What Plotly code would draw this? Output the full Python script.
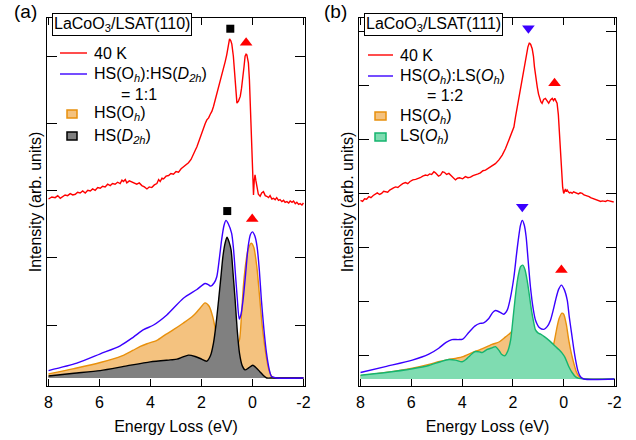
import plotly.graph_objects as go

# ---------------- Panel (a): LaCoO3/LSAT(110) ----------------
a_exp_E = [8.00, 7.87, 7.74, 7.64, 7.54, 7.45, 7.35, 7.25, 7.15, 7.05, 6.95, 6.86, 6.76, 6.66, 6.56, 6.46,
           6.36, 6.27, 6.17, 6.07, 5.97, 5.88, 5.78, 5.68, 5.58, 5.49, 5.39, 5.29, 5.19, 5.12, 5.06, 4.99,
           4.93, 4.83, 4.73, 4.64, 4.54, 4.44, 4.34, 4.24, 4.14, 4.05, 3.95, 3.85, 3.75, 3.68, 3.62, 3.55,
           3.49, 3.39, 3.29, 3.20, 3.10, 3.00, 2.90, 2.80, 2.71, 2.61, 2.51, 2.41, 2.31, 2.24, 2.18, 2.11,
           2.05, 1.98, 1.92, 1.85, 1.79, 1.72, 1.66, 1.59, 1.53, 1.46, 1.40, 1.33, 1.27, 1.20, 1.14, 1.07,
           1.01, 0.95, 0.90, 0.85, 0.81, 0.75, 0.68, 0.61, 0.55, 0.48, 0.43, 0.38, 0.33, 0.29, 0.25, 0.22,
           0.16, 0.12, 0.09, 0.06, 0.03, 0.00, -0.04, -0.07, -0.10, -0.13, -0.17, -0.23, -0.30, -0.36,
           -0.43, -0.50, -0.56, -0.63, -0.69, -0.76, -0.82, -0.89, -0.95, -1.02, -1.08, -1.15, -1.22,
           -1.28, -1.35, -1.42, -1.48, -1.55, -1.61, -1.68, -1.74, -1.81, -1.87, -1.94, -2.00]
a_exp_I = [2.67, 2.70, 2.69, 2.72, 2.68, 2.71, 2.73, 2.72, 2.75, 2.73, 2.74, 2.77, 2.76, 2.79, 2.76, 2.80,
           2.79, 2.82, 2.80, 2.84, 2.83, 2.86, 2.85, 2.89, 2.87, 2.90, 2.89, 2.92, 2.90, 2.95, 2.93, 2.96,
           2.91, 2.94, 2.92, 2.90, 2.89, 2.91, 2.87, 2.85, 2.82, 2.85, 2.84, 2.88, 2.90, 2.96, 2.93, 2.98,
           2.97, 3.01, 3.02, 3.05, 3.04, 3.08, 3.07, 3.12, 3.15, 3.17, 3.21, 3.26, 3.33, 3.40, 3.45, 3.53,
           3.60, 3.68, 3.72, 3.80, 3.85, 3.88, 3.93, 3.98, 4.05, 4.15, 4.25, 4.33, 4.40, 4.50, 4.60, 4.72,
           4.82, 4.96, 5.06, 5.03, 4.98, 4.80, 4.40, 4.10, 4.13, 4.20, 4.32, 4.45, 4.65, 4.80, 4.83, 4.82,
           4.70, 4.45, 4.15, 3.80, 3.40, 3.00, 2.73, 2.95, 3.03, 2.95, 2.86, 2.74, 2.71, 2.76,
           2.78, 2.72, 2.71, 2.69, 2.72, 2.67, 2.68, 2.66, 2.69, 2.65, 2.66, 2.63, 2.65,
           2.62, 2.63, 2.61, 2.64, 2.62, 2.64, 2.60, 2.62, 2.59, 2.60, 2.58, 2.61]

a_sum_E = [8.0, 6.89, 5.97, 5.19, 4.67, 4.27, 3.88, 3.36, 2.71, 2.18, 1.86, 1.72, 1.64, 1.50, 1.40, 1.30,
           1.21, 1.12, 1.04, 0.95, 0.82, 0.75, 0.69, 0.60, 0.52, 0.45, 0.37, 0.27, 0.17, 0.08, 0.0, -0.09,
           -0.18, -0.27, -0.35, -0.45, -0.55, -0.65, -0.75, -0.94, -2.0]
a_sum_I = [0.11, 0.22, 0.36, 0.48, 0.61, 0.72, 0.79, 0.94, 1.19, 1.32, 1.41, 1.39, 1.37, 1.42, 1.51, 1.78,
           2.06, 2.27, 2.35, 2.30, 2.16, 1.95, 1.66, 1.20, 0.88, 0.95, 1.16, 1.55, 1.96, 2.14, 2.18, 2.12,
           1.96, 1.60, 1.16, 0.72, 0.37, 0.14, 0.02, 0.0, 0.0]

a_hsoh_E = [8.0, 7.0, 5.97, 5.12, 4.70, 4.40, 4.14, 3.75, 3.40, 3.10, 2.71, 2.35, 2.10, 1.86, 1.70, 1.55,
            1.45, 1.27, 1.04, 0.80, 0.68, 0.60, 0.51, 0.43, 0.35, 0.25, 0.17, 0.05, -0.05, -0.17, -0.27,
            -0.37, -0.47, -0.56, -0.66, -0.76, -0.90, -2.0]
a_hsoh_I = [0.06, 0.14, 0.23, 0.33, 0.41, 0.47, 0.51, 0.56, 0.65, 0.72, 0.82, 0.92, 1.02, 1.12, 1.07, 0.90,
            0.72, 0.48, 0.30, 0.40, 0.48, 0.50, 0.57, 0.95, 1.40, 1.75, 1.92, 2.01, 1.95, 1.66, 1.25,
            0.82, 0.50, 0.27, 0.10, 0.02, 0.0, 0.0]

a_hsd2h_E = [8.0, 7.0, 5.97, 4.93, 4.01, 3.23, 2.96, 2.75, 2.51, 2.25, 2.05, 1.79, 1.65, 1.53, 1.43, 1.33,
             1.24, 1.16, 1.08, 1.00, 0.92, 0.84, 0.76, 0.68, 0.60, 0.51, 0.40, 0.29, 0.15, -0.01, -0.15,
             -0.30, -0.45, -0.56, -0.80, -2.0]
a_hsd2h_I = [0.03, 0.07, 0.11, 0.18, 0.24, 0.27, 0.28, 0.31, 0.34, 0.32, 0.29, 0.25, 0.33, 0.52, 0.80, 1.16,
             1.50, 1.81, 2.00, 2.10, 2.03, 1.91, 1.55, 1.16, 0.72, 0.37, 0.18, 0.12, 0.15, 0.19, 0.15,
             0.09, 0.03, 0.0, 0.0, 0.0]

a_square_E = [0.87, 0.99]
a_square_I = [5.21, 2.49]
a_tri_E = [0.25, 0.01]
a_tri_I = [5.00, 2.37]

# ---------------- Panel (b): LaCoO3/LSAT(111) ----------------
b_exp_E = [8.00, 7.92, 7.84, 7.76, 7.67, 7.59, 7.50, 7.42, 7.34, 7.25, 7.17, 7.09, 7.01, 6.93, 6.85, 6.77,
           6.70, 6.62, 6.53, 6.45, 6.34, 6.23, 6.14, 6.05, 5.94, 5.83, 5.74, 5.65, 5.55, 5.44, 5.36, 5.28,
           5.20, 5.11, 5.05, 5.00, 4.93, 4.85, 4.77, 4.70, 4.61, 4.52, 4.46, 4.40, 4.33, 4.26, 4.18, 4.10,
           3.98, 3.87, 3.77, 3.67, 3.57, 3.47, 3.37, 3.28, 3.18, 3.08, 2.99, 2.90, 2.80, 2.69,
           2.55, 2.42, 2.29, 2.16, 2.06, 1.96, 1.90, 1.83, 1.76, 1.70, 1.63, 1.57, 1.52, 1.48, 1.41, 1.35,
           1.30, 1.24, 1.19, 1.15, 1.10, 1.04, 0.99, 0.95, 0.90, 0.85, 0.79, 0.72, 0.65, 0.59, 0.52, 0.45,
           0.40, 0.35, 0.30, 0.26, 0.21, 0.17, 0.13, 0.09, 0.04, 0.00, -0.04, -0.07, -0.10, -0.14, -0.18,
           -0.23, -0.28, -0.33, -0.39, -0.45, -0.51, -0.58, -0.65, -0.73, -0.80, -0.88, -0.94, -1.00,
           -1.06, -1.12, -1.18, -1.25, -1.32, -1.40, -1.46, -1.52, -1.58, -1.65, -1.72, -1.80, -1.88, -1.97]
b_exp_I = [3.31, 3.29, 3.34, 3.33, 3.38, 3.36, 3.40, 3.43, 3.45, 3.42, 3.44, 3.48, 3.47, 3.46, 3.50, 3.53,
           3.54, 3.56, 3.55, 3.58, 3.62, 3.64, 3.62, 3.66, 3.69, 3.70, 3.71, 3.73, 3.76, 3.78, 3.77, 3.80,
           3.79, 3.84, 3.82, 3.80, 3.76, 3.78, 3.84, 3.83, 3.79, 3.81, 3.78, 3.76, 3.71, 3.69, 3.72, 3.73,
           3.71, 3.75, 3.73, 3.74, 3.77, 3.78, 3.80, 3.82, 3.86, 3.87, 3.90, 3.92, 3.95, 3.99,
           4.06, 4.15, 4.27, 4.43, 4.55, 4.67, 4.85, 5.04, 5.22, 5.41, 5.60, 5.78, 5.92, 6.03, 6.15, 6.23,
           6.20, 6.12, 5.98, 5.78, 5.58, 5.41, 5.28, 5.20, 5.14, 5.11, 5.18, 5.20, 5.14, 5.11, 5.17, 5.20,
           5.16, 5.20, 5.15, 5.11, 4.90, 4.55, 4.15, 3.81, 3.55, 3.44, 3.50, 3.52, 3.47, 3.50, 3.47,
           3.45, 3.46, 3.44, 3.47, 3.46, 3.44, 3.43, 3.45, 3.44, 3.41, 3.40, 3.39, 3.38,
           3.36, 3.35, 3.34, 3.33, 3.31, 3.31, 3.29, 3.30, 3.30, 3.29, 3.31, 3.30, 3.29, 3.28]

b_sum_E = [8.0, 7.02, 5.96, 5.31, 4.92, 4.63, 4.40, 4.15, 3.97, 3.74, 3.50, 3.30, 3.15, 2.95, 2.80, 2.69,
           2.52, 2.36, 2.22, 2.10, 1.96, 1.86, 1.79, 1.70, 1.63, 1.55, 1.48, 1.40, 1.31, 1.20, 1.11, 0.95,
           0.78, 0.65, 0.52, 0.40, 0.32, 0.20, 0.09, -0.02, -0.14, -0.22, -0.31, -0.40, -0.47, -0.56,
           -0.66, -0.80, -2.0]
b_sum_I = [0.12, 0.23, 0.35, 0.46, 0.57, 0.68, 0.73, 0.73, 0.74, 0.86, 0.98, 1.03, 1.04, 1.12, 1.23, 1.27,
           1.24, 1.20, 1.28, 1.50, 1.89, 2.30, 2.57, 2.85, 2.94, 2.85, 2.64, 2.20, 1.71, 1.30, 1.09, 0.95,
           0.92, 0.97, 1.09, 1.30, 1.46, 1.66, 1.74, 1.66, 1.46, 1.15, 0.85, 0.55, 0.35, 0.15,
           0.04, 0.0, 0.0]

b_hsoh_E = [8.0, 7.0, 5.96, 5.31, 4.85, 4.52, 4.00, 3.60, 3.31, 2.82, 2.53, 2.29, 2.10, 1.96, 1.80, 1.60,
            1.40, 1.20, 1.00, 0.80, 0.60, 0.45, 0.36, 0.28, 0.18, 0.07, 0.00, -0.10, -0.20, -0.30, -0.40,
            -0.50, -0.60, -0.72, -0.85, -2.0]
b_hsoh_I = [0.06, 0.12, 0.20, 0.27, 0.33, 0.36, 0.41, 0.49, 0.54, 0.64, 0.69, 0.78, 0.85, 0.93, 0.90, 0.80,
            0.72, 0.62, 0.52, 0.45, 0.45, 0.55, 0.72, 0.92, 1.12, 1.22, 1.20, 1.02, 0.72, 0.48, 0.29,
            0.13, 0.05, 0.01, 0.0, 0.0]

b_lsoh_E = [8.0, 7.0, 5.96, 5.31, 4.85, 4.52, 4.26, 4.00, 3.85, 3.74, 3.55, 3.47, 3.30, 3.21, 3.01, 2.80,
            2.69, 2.55, 2.45, 2.32, 2.20, 2.09, 2.00, 1.92, 1.83, 1.77, 1.70, 1.61, 1.52, 1.44, 1.35, 1.27,
            1.18, 1.11, 1.00, 0.91, 0.75, 0.59, 0.45, 0.32, 0.18, 0.06, -0.05, -0.20, -0.33, -0.47, -0.60,
            -0.80, -2.0]
b_lsoh_I = [0.07, 0.12, 0.19, 0.25, 0.32, 0.36, 0.35, 0.32, 0.36, 0.41, 0.49, 0.51, 0.50, 0.49, 0.55, 0.58,
            0.60, 0.53, 0.46, 0.43, 0.52, 0.72, 1.10, 1.46, 1.80, 1.96, 2.08, 2.11, 2.02, 1.83, 1.55, 1.28,
            1.05, 0.91, 0.85, 0.83, 0.78, 0.72, 0.66, 0.60, 0.54, 0.48, 0.40, 0.23, 0.12, 0.04, 0.01,
            0.0, 0.0]

b_down_E = [1.39, 1.63]
b_down_I = [6.50, 3.19]
b_up_E = [0.36, 0.09]
b_up_I = [5.48, 2.02]

x_tick_vals = [8, 6, 4, 2, 0, -2]
x_tick_text = ["8", "6", "4", "2", "0", "-2"]

# legend texts
a_legend = ["40 K", "HS(O<sub><i>h</i></sub>):HS(<i>D</i><sub><i>2h</i></sub>)", "= 1:1",
            "HS(O<sub><i>h</i></sub>)", "HS(<i>D</i><sub><i>2h</i></sub>)"]
b_legend = ["40 K", "HS(<i>O</i><sub><i>h</i></sub>):LS(<i>O</i><sub><i>h</i></sub>)", "= 1:2",
            "HS(<i>O</i><sub><i>h</i></sub>)", "LS(<i>O</i><sub><i>h</i></sub>)"]

# ---------------- styling ----------------
FONT = "Liberation Sans, Arial, sans-serif"
RED = "#ff0000"
BLUE = "#3a00ff"
ORANGE_LINE = "#e8900c"
ORANGE_FILL = "#f4c27f"
GRAY_FILL = "#808080"
GREEN_LINE = "#15b46e"
GREEN_FILL = "#7fdcb1"
W, H = 636, 440

fig = go.Figure()

def fill_trace(E, I, line_col, fill_col, xa, ya):
    return go.Scatter(x=E, y=I, mode="lines", line=dict(color=line_col, width=1.4, shape="spline", smoothing=0.7),
                      fill="tozeroy", fillcolor=fill_col, xaxis=xa, yaxis=ya, showlegend=False, hoverinfo="skip")

def line_trace(E, I, col, xa, ya, spline=True):
    return go.Scatter(x=E, y=I, mode="lines", showlegend=False,
                      line=dict(color=col, width=1.4, shape="spline" if spline else "linear", smoothing=0.7),
                      xaxis=xa, yaxis=ya)

# panel (a)
fig.add_trace(fill_trace(a_hsoh_E, a_hsoh_I, ORANGE_LINE, ORANGE_FILL, "x", "y"))
fig.add_trace(fill_trace(a_hsd2h_E, a_hsd2h_I, "#000000", GRAY_FILL, "x", "y"))
fig.add_trace(line_trace(a_sum_E, a_sum_I, BLUE, "x", "y"))
fig.add_trace(line_trace(a_exp_E, a_exp_I, RED, "x", "y", spline=False))
fig.add_trace(go.Scatter(x=a_square_E, y=a_square_I, mode="markers", showlegend=False,
                         marker=dict(symbol="square", size=8, color="#000000"), xaxis="x", yaxis="y"))
fig.add_trace(go.Scatter(x=a_tri_E, y=a_tri_I, mode="markers", showlegend=False,
                         marker=dict(symbol="triangle-up", size=11, color=RED), xaxis="x", yaxis="y"))

# panel (b)
fig.add_trace(fill_trace(b_hsoh_E, b_hsoh_I, ORANGE_LINE, ORANGE_FILL, "x2", "y2"))
fig.add_trace(fill_trace(b_lsoh_E, b_lsoh_I, GREEN_LINE, GREEN_FILL, "x2", "y2"))
fig.add_trace(line_trace(b_sum_E, b_sum_I, BLUE, "x2", "y2"))
fig.add_trace(line_trace(b_exp_E, b_exp_I, RED, "x2", "y2", spline=False))
fig.add_trace(go.Scatter(x=b_down_E, y=b_down_I, mode="markers", showlegend=False,
                         marker=dict(symbol="triangle-down", size=11, color=BLUE), xaxis="x2", yaxis="y2"))
fig.add_trace(go.Scatter(x=b_up_E, y=b_up_I, mode="markers", showlegend=False,
                         marker=dict(symbol="triangle-up", size=11, color=RED), xaxis="x2", yaxis="y2"))

def px_x(p):
    return p / W

def px_y(p):
    return 1 - p / H

xcommon = dict(range=[8.06, -2.06], tickvals=x_tick_vals, ticktext=x_tick_text, ticks="inside", ticklen=7,
               tickwidth=1, tickcolor="black", showline=True, linecolor="black", linewidth=1, mirror="ticks",
               showgrid=False, zeroline=False, automargin=False, ticklabelstandoff=2,
               tickfont=dict(size=16, color="black", family=FONT),
               title=dict(text="Energy Loss (eV)", font=dict(size=16, color="black", family=FONT), standoff=10))
ycommon = dict(ticks="inside", ticklen=10, tickwidth=1, tickcolor="black", showline=True, linecolor="black",
               linewidth=1, mirror="ticks", showgrid=False, zeroline=False, showticklabels=False, dtick=1,
               automargin=False,
               title=dict(text="Intensity (arb. units)", font=dict(size=16, color="black", family=FONT), standoff=0))

# manual legends (paper coords in pixels)
shapes = []
annotations = []

def legend_block(texts, x_line0, x_line1, x_text, x_indent, ys, sw_x0, sw_x1, sw_cols):
    for y, col in zip(ys[:2], [RED, BLUE]):
        shapes.append(dict(type="line", xref="paper", yref="paper", x0=px_x(x_line0), x1=px_x(x_line1),
                           y0=px_y(y), y1=px_y(y), line=dict(color=col, width=1.4)))
    for y, (lc, fc) in zip(ys[3:], sw_cols):
        shapes.append(dict(type="rect", xref="paper", yref="paper", x0=px_x(sw_x0), x1=px_x(sw_x1),
                           y0=px_y(y + 4), y1=px_y(y - 4), line=dict(color=lc, width=1.5), fillcolor=fc))
    for i, (t, y) in enumerate(zip(texts, ys)):
        annotations.append(dict(text=t, xref="paper", yref="paper", x=px_x(x_indent if i == 2 else x_text),
                                y=px_y(y), xanchor="left", yanchor="middle", showarrow=False,
                                font=dict(size=16, family=FONT, color="black")))

legend_block(a_legend, 60, 87, 92, 119, [53, 74, 94, 114, 136], 67, 77,
             [(ORANGE_LINE, ORANGE_FILL), ("#000000", GRAY_FILL)])
legend_block(b_legend, 368, 393, 398, 425, [55, 76, 95, 116, 137], 375, 386,
             [(ORANGE_LINE, ORANGE_FILL), (GREEN_LINE, GREEN_FILL)])

annotations += [
    dict(text="LaCoO<sub>3</sub>/LSAT(110)", xref="paper", yref="paper", x=px_x(52), y=px_y(13),
         xanchor="left", yanchor="top", showarrow=False, bgcolor="white", bordercolor="black",
         borderwidth=1, borderpad=1, font=dict(size=16, family=FONT, color="black")),
    dict(text="LaCoO<sub>3</sub>/LSAT(111)", xref="paper", yref="paper", x=px_x(364), y=px_y(13),
         xanchor="left", yanchor="top", showarrow=False, bgcolor="white", bordercolor="black",
         borderwidth=1, borderpad=1, font=dict(size=16, family=FONT, color="black")),
    dict(text="(a)", xref="paper", yref="paper", x=px_x(25), y=px_y(12), xanchor="center",
         yanchor="middle", showarrow=False, font=dict(size=19, family=FONT, color="black")),
    dict(text="(b)", xref="paper", yref="paper", x=px_x(335), y=px_y(12), xanchor="center",
         yanchor="middle", showarrow=False, font=dict(size=19, family=FONT, color="black")),
]

ydom = [px_y(386), px_y(18)]
fig.update_layout(
    width=W, height=H, margin=dict(l=0, r=0, t=0, b=0, autoexpand=False),
    paper_bgcolor="white", plot_bgcolor="white", showlegend=False,
    font=dict(family=FONT, size=16, color="black"),
    xaxis=dict(domain=[px_x(47), px_x(305)], anchor="y", **xcommon),
    yaxis=dict(domain=ydom, anchor="x", range=[-0.12, 5.37], tick0=0.79, **ycommon),
    xaxis2=dict(domain=[px_x(359), px_x(616)], anchor="y2", **xcommon),
    yaxis2=dict(domain=ydom, anchor="x2", range=[-0.13, 6.69], tick0=0.44, **ycommon),
    shapes=shapes,
    annotations=annotations,
)

fig.write_html("out.html", config={"displayModeBar": False, "staticPlot": True},
               post_script="document.body.style.margin='0';document.body.style.overflow='hidden';")
